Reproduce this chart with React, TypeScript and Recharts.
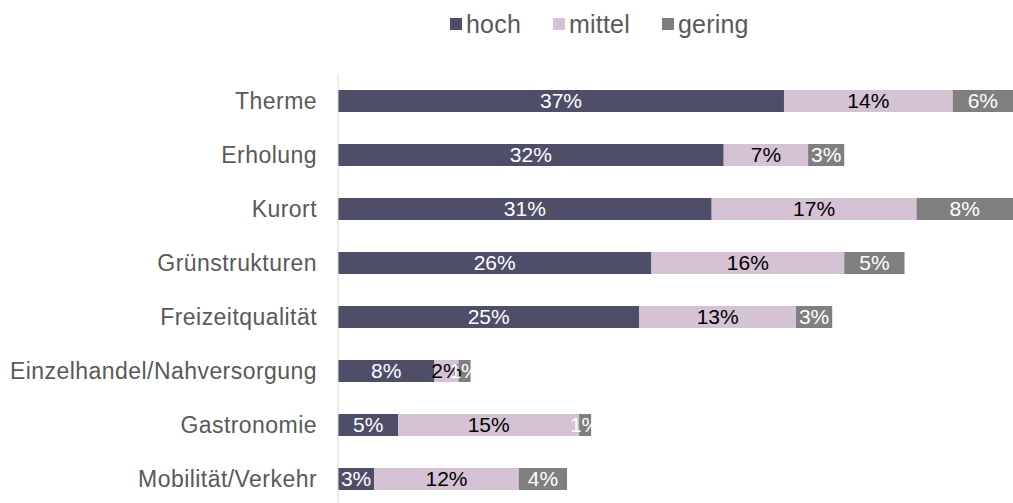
import { Bar, BarChart, LabelList, XAxis, YAxis } from "recharts";

const categories = [
  "Therme",
  "Erholung",
  "Kurort",
  "Grünstrukturen",
  "Freizeitqualität",
  "Einzelhandel/Nahversorgung",
  "Gastronomie",
  "Mobilität/Verkehr",
];
const hoch = [37, 32, 31, 26, 25, 8, 5, 3];
const mittel = [14, 7, 17, 16, 13, 2, 15, 12];
const gering = [6, 3, 8, 5, 3, 1, 1, 4];

const series = [
  { key: "hoch", color: "#4f4e69", text: "#ffffff" },
  { key: "mittel", color: "#d5c2d4", text: "#000000" },
  { key: "gering", color: "#7f7f7f", text: "#ffffff" },
];

const data = categories.map((name, i) => ({
  name,
  hoch: hoch[i],
  mittel: mittel[i],
  gering: gering[i],
}));

const font = "'Liberation Sans', Arial, sans-serif";

function LegendRow() {
  return (
    <div
      style={{
        position: "absolute",
        top: 9,
        left: 450,
        display: "flex",
        alignItems: "center",
        fontFamily: font,
        fontSize: 25,
        color: "#595959",
        lineHeight: "30px",
      }}
    >
      {series.map((s) => (
        <div
          key={s.key}
          style={{ display: "flex", alignItems: "center", marginRight: 32 }}
        >
          <span
            style={{
              width: 12,
              height: 12,
              background: s.color,
              display: "inline-block",
              marginRight: 4,
            }}
          />
          <span style={{ letterSpacing: 0.2 }}>{s.key}</span>
        </div>
      ))}
    </div>
  );
}

export default function App() {
  return (
    <div
      style={{
        position: "fixed",
        left: 0,
        top: 0,
        width: 1013,
        height: 503,
        overflow: "hidden",
        background: "#fff",
      }}
    >
      <LegendRow />
      <BarChart
        width={1013}
        height={510}
        data={data}
        layout="vertical"
        barSize={22}
        margin={{ top: 74, right: 0, bottom: 4, left: 0 }}
        style={{ fontFamily: font }}
      >
        <XAxis type="number" domain={[0, 56]} allowDataOverflow hide />
        <YAxis
          type="category"
          dataKey="name"
          width={338}
          tickLine={false}
          tickMargin={15}
          axisLine={{ stroke: "#d9d9d9" }}
          tick={{ fontSize: 23, fill: "#595959", letterSpacing: 0.45 }}
          interval={0}
        />
        {series.map((s) => (
          <Bar
            key={s.key}
            dataKey={s.key}
            stackId="a"
            fill={s.color}
            isAnimationActive={false}
          >
            <LabelList
              dataKey={s.key}
              position="center"
              formatter={(v: number) => `${v}%`}
              style={{ fontSize: 21, fill: s.text }}
            />
          </Bar>
        ))}
      </BarChart>
    </div>
  );
}
